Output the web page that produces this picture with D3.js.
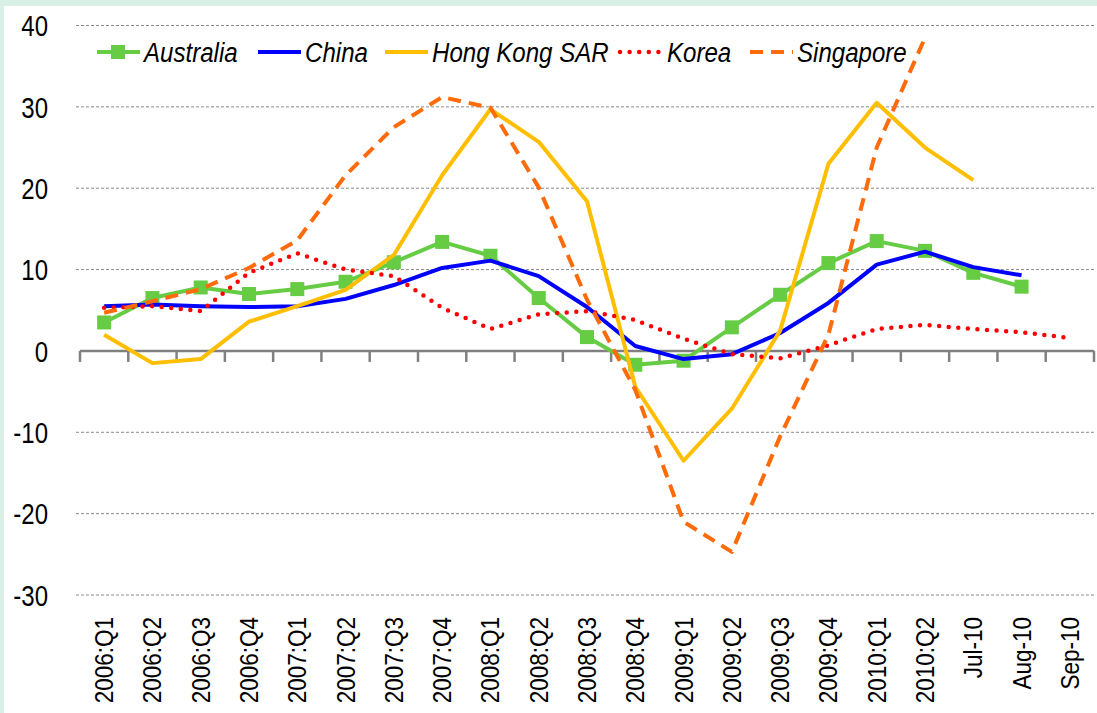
<!DOCTYPE html>
<html lang="en">
<head>
  <meta charset="UTF-8">
  <title>Asia growth chart</title>
  <script src="https://cdn.jsdelivr.net/npm/d3@7/dist/d3.min.js"></script>
  <style>
    body { margin: 0; background: #d9f0e7; overflow: hidden; }
    #chart { display: block; }
    text { font-family: "Liberation Sans", Arial, sans-serif; }
  </style>
</head>
<body>
  <svg id="chart"></svg>
  <script>
    const categories = ['2006:Q1', '2006:Q2', '2006:Q3', '2006:Q4', '2007:Q1', '2007:Q2', '2007:Q3', '2007:Q4',
      '2008:Q1', '2008:Q2', '2008:Q3', '2008:Q4', '2009:Q1', '2009:Q2', '2009:Q3', '2009:Q4',
      '2010:Q1', '2010:Q2', 'Jul-10', 'Aug-10', 'Sep-10'];

    const australia = [3.5, 6.5, 7.8, 7.0, 7.6, 8.5, 10.9, 13.4, 11.7, 6.5, 1.7, -1.7, -1.2, 2.9, 6.9, 10.8, 13.5, 12.3, 9.6, 7.9, null];
    const china = [5.5, 5.7, 5.5, 5.4, 5.5, 6.4, 8.1, 10.2, 11.1, 9.2, 5.4, 0.6, -1.0, -0.4, 2.2, 5.9, 10.6, 12.2, 10.3, 9.3, null];
    const hongKong = [2.0, -1.5, -1.0, 3.6, 5.5, 7.5, 11.8, 21.6, 29.7, 25.7, 18.4, -4.4, -13.5, -7.1, 2.5, 23.0, 30.5, 25.0, 21.0, null, null];
    const korea = [5.3, 5.5, 4.9, 9.6, 12.0, 10.0, 9.2, 5.3, 2.7, 4.5, 4.9, 3.8, 1.5, -0.4, -0.9, 0.7, 2.7, 3.2, 2.7, 2.3, 1.6];
    const singapore = [4.7, 6.1, 7.6, 10.2, 13.6, 21.6, 27.5, 31.2, 29.9, 20.1, 6.3, -4.8, -21.0, -24.7, -10.5, 2.0, 25.0, 38.5, null, null, null];

    const yTicks = [40, 30, 20, 10, 0, -10, -20, -30];

    const series = [
      { name: 'Australia', values: australia, color: '#66cc44', dash: null, marker: true },
      { name: 'China', values: china, color: '#0000ff', dash: null },
      { name: 'Hong Kong SAR', values: hongKong, color: '#ffbf00', dash: null },
      { name: 'Korea', values: korea, color: '#ff0000', dash: '0 9.6', cap: 'round' },
      { name: 'Singapore', values: singapore, color: '#ff6a0a', dash: '13 8', cap: 'butt' }
    ];

    const width = 1097, height = 713;
    const plotLeft = 80, plotRight = 1094;

    const svg = d3.select('#chart').attr('width', width).attr('height', height);

    // white plot panel over the mint frame
    svg.append('rect')
      .attr('x', 4).attr('y', 6)
      .attr('width', width - 4).attr('height', height - 6)
      .attr('fill', '#fff');

    const x = d3.scaleBand().domain(categories).range([plotLeft, plotRight]).padding(0);
    const y = d3.scaleLinear().domain([-30, 40]).range([595, 25.5]);

    // gridlines
    svg.append('g')
      .selectAll('line')
      .data(yTicks.filter(t => t !== 0))
      .enter()
      .append('line')
      .attr('x1', 76).attr('x2', plotRight)
      .attr('y1', d => y(d)).attr('y2', d => y(d))
      .attr('stroke', '#8a8a8a')
      .attr('stroke-width', 1)
      .attr('stroke-dasharray', '3 2');

    // y labels (squeezed to look like a narrow face)
    svg.append('g')
      .selectAll('text')
      .data(yTicks)
      .enter()
      .append('text')
      .attr('transform', d => `translate(48,${y(d)}) scale(0.8,1)`)
      .attr('dy', '0.36em')
      .attr('text-anchor', 'end')
      .attr('font-size', 30)
      .attr('fill', '#000')
      .text(d => d);

    // x axis line at zero with ticks between categories
    const xAxis = svg.append('g').attr('transform', `translate(0,${y(0)})`);
    xAxis.append('line')
      .attr('x1', plotLeft).attr('x2', plotRight)
      .attr('stroke', '#808080').attr('stroke-width', 2.5);
    xAxis.selectAll('line.tick')
      .data(categories.concat(['end']))
      .enter()
      .append('line')
      .attr('class', 'tick')
      .attr('x1', (d, i) => plotLeft + i * x.bandwidth())
      .attr('x2', (d, i) => plotLeft + i * x.bandwidth())
      .attr('y1', 0).attr('y2', 11)
      .attr('stroke', '#808080').attr('stroke-width', 2.5);

    // x labels, rotated
    svg.append('g')
      .selectAll('text')
      .data(categories)
      .enter()
      .append('text')
      .attr('transform', d => `translate(${x(d) + x.bandwidth() / 2 + 9},617) rotate(-90) scale(0.9,1)`)
      .attr('text-anchor', 'end')
      .attr('font-size', 25)
      .attr('fill', '#000')
      .text(d => d);

    const line = d3.line()
      .defined(d => d != null)
      .x((d, i) => x(categories[i]) + x.bandwidth() / 2)
      .y(d => y(d));

    series.forEach(s => {
      svg.append('path')
        .datum(s.values)
        .attr('d', line)
        .attr('fill', 'none')
        .attr('stroke', s.color)
        .attr('stroke-width', s.name === 'Korea' ? 4.5 : 4)
        .attr('stroke-linejoin', 'round')
        .attr('stroke-linecap', s.cap || 'butt')
        .attr('stroke-dasharray', s.dash);
      if (s.marker) {
        svg.append('g')
          .selectAll('rect')
          .data(s.values.map((v, i) => [v, i]).filter(d => d[0] != null))
          .enter()
          .append('rect')
          .attr('x', d => x(categories[d[1]]) + x.bandwidth() / 2 - 7)
          .attr('y', d => y(d[0]) - 7)
          .attr('width', 14).attr('height', 14)
          .attr('fill', s.color);
      }
    });

    // legend
    const legendItems = [
      { s: series[0], x: 97 },
      { s: series[1], x: 258 },
      { s: series[2], x: 385 },
      { s: series[3], x: 620 },
      { s: series[4], x: 750 }
    ];
    const legend = svg.append('g').attr('transform', 'translate(0,52)');
    legendItems.forEach(it => {
      const s = it.s;
      legend.append('line')
        .attr('x1', it.x).attr('x2', it.x + 43)
        .attr('stroke', s.color)
        .attr('stroke-width', s.name === 'Korea' ? 4.5 : 4)
        .attr('stroke-linecap', s.cap || 'butt')
        .attr('stroke-dasharray', s.dash);
      if (s.marker) {
        legend.append('rect')
          .attr('x', it.x + 14).attr('y', -7)
          .attr('width', 14).attr('height', 14)
          .attr('fill', s.color);
      }
      legend.append('text')
        .attr('transform', `translate(${it.x + 47},0) scale(0.86,1)`)
        .attr('dy', '0.36em')
        .attr('font-size', 28)
        .attr('font-style', 'italic')
        .attr('fill', '#000')
        .text(s.name);
    });
  </script>
</body>
</html>
